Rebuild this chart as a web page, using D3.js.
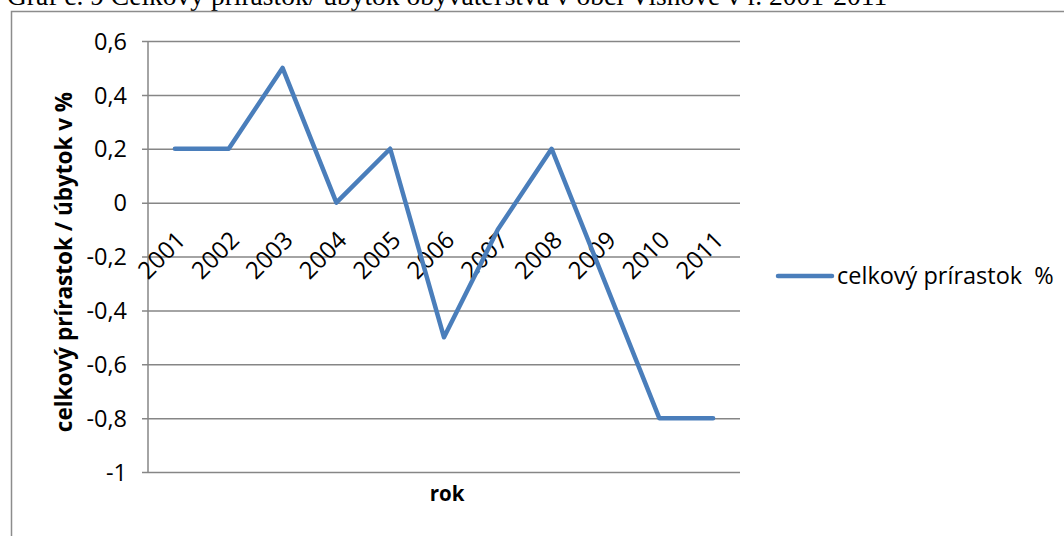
<!DOCTYPE html>
<html><head><meta charset="utf-8">
<script src="https://cdn.jsdelivr.net/npm/d3@7"></script>
<style>
html,body{margin:0;padding:0;background:#fff;overflow:hidden}
svg{display:block}
</style></head>
<body>
<script>
const years = ["2001","2002","2003","2004","2005","2006","2007","2008","2009","2010","2011"];
const values = [0.2, 0.2, 0.5, 0, 0.2, -0.5, -0.1, 0.2, -0.3, -0.8, -0.8];
const yTicks = [0.6, 0.4, 0.2, 0, -0.2, -0.4, -0.6, -0.8, -1];
const seriesName = "celkový prírastok  %";
const titleText = "Graf č. 9 Celkový prírastok/ úbytok obyvateľstva v obci Višňove v r. 2001-2011";
const yTitle = "celkový prírastok / úbytok v %";
const xTitle = "rok";

const W = 1064, H = 536;
const svg = d3.select("body").append("svg").attr("width", W).attr("height", H);
const font = "'Open Sans', sans-serif";

// title (cut off at top, as in the reference)
svg.append("text").attr("x", 7).attr("y", 5)
  .attr("font-family", "'Liberation Serif', serif").attr("font-size", 27.5)
  .attr("fill", "#000").text(titleText);

// outer frame
svg.append("rect").attr("x", 11.5).attr("y", 11.5).attr("width", 1100).attr("height", 600)
  .attr("fill", "none").attr("stroke", "#8c8c8c").attr("stroke-width", 1.5);

const x = d3.scaleBand().domain(years).range([148, 740]);
const y = d3.scaleLinear().domain([-1, 0.6]).range([472, 41]);
const cx = d => x(d) + x.bandwidth() / 2;

// gridlines + ticks via axis
const yAxis = d3.axisLeft(y).tickValues(yTicks).tickSize(-(740 - 148)).tickPadding(0)
  .tickFormat(d => String(d).replace(".", ","));
const gy = svg.append("g").attr("transform", "translate(148,0)").call(yAxis);
gy.select(".domain").remove();
gy.selectAll(".tick line").attr("stroke", "#868686").attr("stroke-width", 1.5).attr("x1", -6);
gy.selectAll(".tick text").attr("x", -21).attr("font-family", font).attr("font-size", 23.5)
  .attr("fill", "#000").attr("dy", "0.35em");
// y axis line
svg.append("line").attr("x1", 148).attr("x2", 148).attr("y1", y(0.6)).attr("y2", y(-1))
  .attr("stroke", "#868686").attr("stroke-width", 1.5);

// x labels at zero line
const xAxis = d3.axisBottom(x).tickSize(0).tickPadding(0);
const gx = svg.append("g").attr("transform", `translate(0,${y(0)})`).call(xAxis);
gx.select(".domain").remove();
gx.selectAll(".tick text")
  .attr("font-family", font).attr("font-size", 24).attr("fill", "#000")
  .attr("text-anchor", "end").attr("y", 0).attr("dy", "0.35em")
  .attr("transform", "translate(6,33) rotate(-45)");

// line
const line = d3.line().x((d, i) => cx(years[i])).y(d => y(d));
svg.append("path").datum(values).attr("d", line).attr("fill", "none")
  .attr("stroke", "#4a7ebb").attr("stroke-width", 4.5)
  .attr("stroke-linejoin", "round").attr("stroke-linecap", "round");

// axis titles
svg.append("text").attr("transform", `translate(72,262) rotate(-90)`)
  .attr("text-anchor", "middle").attr("font-family", font).attr("font-weight", "bold")
  .attr("font-size", 22.5).attr("fill", "#000").text(yTitle);
svg.append("text").attr("x", 447).attr("y", 501).attr("text-anchor", "middle")
  .attr("font-family", font).attr("font-weight", "bold").attr("font-size", 20.5)
  .attr("fill", "#000").text(xTitle);

// legend
svg.append("line").attr("x1", 778).attr("x2", 832).attr("y1", 276).attr("y2", 276)
  .attr("stroke", "#4a7ebb").attr("stroke-width", 4.5).attr("stroke-linecap", "round");
svg.append("text").attr("x", 837).attr("y", 276).attr("dy", "0.35em")
  .attr("font-family", font).attr("font-size", 23.5).attr("fill", "#000")
  .attr("xml:space", "preserve").style("white-space", "pre").text(seriesName);
</script>
</body></html>
